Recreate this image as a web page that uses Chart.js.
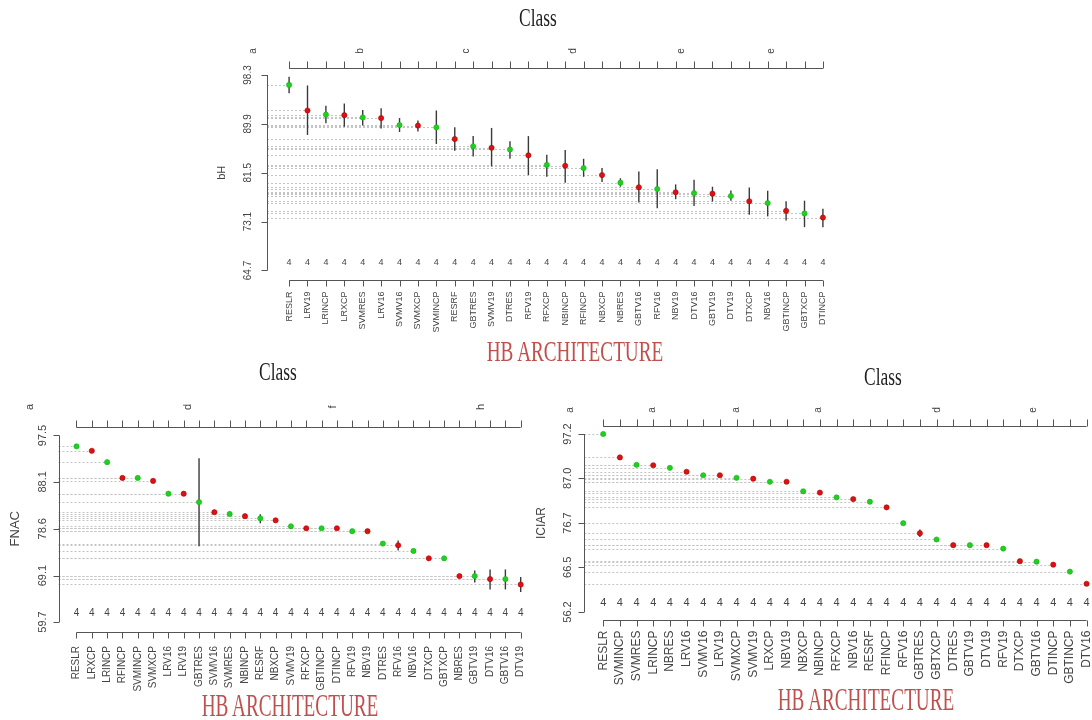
<!DOCTYPE html>
<html>
<head>
<meta charset="utf-8">
<script src="https://cdn.jsdelivr.net/npm/chart.js@4.4.1/dist/chart.umd.min.js"></script>
<style>
  body { margin: 0; background: #fff; width: 1092px; height: 720px; overflow: hidden; position: relative; }
  canvas { position: absolute; left: 0; top: 0; }
  .ttl { position: absolute; font-family: "Liberation Serif", "Times New Roman", serif; line-height: 1; white-space: nowrap; }
  .cls { color: #222; }
  .arch { color: #c0504d; }
</style>
</head>
<body>
<canvas id="bh" width="1092" height="720"></canvas>
<canvas id="fnac" width="1092" height="720"></canvas>
<canvas id="iciar" width="1092" height="720"></canvas>

<div class="ttl cls" style="left:538px;top:5px;font-size:26px;transform:translateX(-50%) scaleX(.67)">Class</div>
<div class="ttl arch" style="left:575px;top:336px;font-size:30px;transform:translateX(-50%) scaleX(.64)">HB ARCHITECTURE</div>
<div class="ttl cls" style="left:278px;top:359px;font-size:26px;transform:translateX(-50%) scaleX(.67)">Class</div>
<div class="ttl arch" style="left:290px;top:690px;font-size:31px;transform:translateX(-50%) scaleX(.62)">HB ARCHITECTURE</div>
<div class="ttl cls" style="left:883px;top:364px;font-size:26px;transform:translateX(-50%) scaleX(.67)">Class</div>
<div class="ttl arch" style="left:866px;top:683px;font-size:32px;transform:translateX(-50%) scaleX(.6)">HB ARCHITECTURE</div>

<script>
// ---- bH panel (top) ----
const labelsBH = ['RESLR', 'LRV19', 'LRINCP', 'LRXCP', 'SVMRES', 'LRV16', 'SVMV16', 'SVMXCP', 'SVMINCP', 'RESRF',
    'GBTRES', 'SVMV19', 'DTRES', 'RFV19', 'RFXCP', 'NBINCP', 'RFINCP', 'NBXCP', 'NBRES', 'GBTV16',
    'RFV16', 'NBV19', 'DTV16', 'GBTV19', 'DTV19', 'DTXCP', 'NBV16', 'GBTINCP', 'GBTXCP', 'DTINCP'];
const meansBH = [96.6, 92.2, 91.5, 91.4, 91.0, 90.9, 89.7, 89.6, 89.3, 87.3,
    86.05, 85.8, 85.5, 84.5, 82.85, 82.7, 82.3, 81.1, 79.8, 79.0,
    78.7, 78.15, 78.0, 77.9, 77.5, 76.6, 76.3, 74.95, 74.5, 73.8];
const lowBH = [95.15, 88.0, 90.0, 89.4, 89.6, 89.1, 88.5, 88.6, 86.45, 85.3,
    84.3, 82.6, 83.9, 81.1, 80.8, 79.8, 80.8, 79.9, 79.1, 76.4,
    75.4, 76.95, 75.8, 76.55, 76.7, 74.3, 74.0, 73.3, 72.15, 72.15];
const highBH = [98.0, 96.5, 93.0, 93.4, 92.3, 92.6, 90.9, 90.5, 92.2, 89.3,
    87.8, 89.2, 86.9, 87.8, 84.6, 85.4, 83.9, 82.3, 80.55, 81.7,
    82.1, 79.5, 80.3, 79.1, 78.45, 78.95, 78.4, 76.6, 76.7, 75.3];
const ticksBH = [64.7, 73.1, 81.5, 89.9, 98.3];
const lettersBH = ['a', 'b', 'c', 'd', 'e', 'e'];
const letterAtBH = [-0.92, 4.85, 10.65, 16.45, 22.3, 27.2];
const countsBH = [4, 4, 4, 4, 4, 4, 4, 4, 4, 4, 4, 4, 4, 4, 4, 4, 4, 4, 4, 4, 4, 4, 4, 4, 4, 4, 4, 4, 4, 4];

// ---- FNAC panel (bottom left) ----
const labelsFNAC = ['RESLR', 'LRXCP', 'LRINCP', 'RFINCP', 'SVMINCP', 'SVMXCP', 'LRV16', 'LRV19', 'GBTRES', 'SVMV16',
    'SVMRES', 'NBINCP', 'RESRF', 'NBXCP', 'SVMV19', 'RFXCP', 'GBTINCP', 'DTINCP', 'RFV19', 'NBV19',
    'DTRES', 'RFV16', 'NBV16', 'DTXCP', 'GBTXCP', 'NBRES', 'GBTV19', 'DTV16', 'GBTV16', 'DTV19'];
const meansFNAC = [95.3, 94.4, 92.1, 88.9, 88.9, 88.3, 85.7, 85.7, 84.0, 81.95,
    81.6, 81.15, 80.7, 80.3, 79.1, 78.7, 78.7, 78.7, 78.1, 78.1,
    75.6, 75.25, 74.1, 72.6, 72.6, 69.0, 69.0, 68.4, 68.4, 67.3];
const lowFNAC = [95.3, 94.4, 92.1, 88.9, 88.9, 88.3, 85.7, 85.7, 75.05, 81.95,
    81.6, 81.15, 79.7, 80.3, 78.6, 78.7, 78.7, 78.7, 78.1, 78.1,
    75.6, 74.2, 74.1, 72.6, 72.6, 69.0, 67.7, 66.3, 66.3, 65.8];
const highFNAC = [95.3, 94.4, 92.1, 88.9, 88.9, 88.3, 85.7, 85.7, 92.9, 81.95,
    81.6, 81.15, 81.55, 80.3, 79.55, 78.7, 78.7, 78.7, 78.1, 78.1,
    75.6, 76.2, 74.1, 72.6, 72.6, 69.0, 70.15, 70.35, 70.35, 68.8];
const ticksFNAC = [59.7, 69.1, 78.6, 88.1, 97.5];
const lettersFNAC = ['a', 'd', 'f', 'h'];
const letterAtFNAC = [-2.05, 8.27, 17.73, 27.4];
const countsFNAC = [4, 4, 4, 4, 4, 4, 4, 4, 4, 4, 4, 4, 4, 4, 4, 4, 4, 4, 4, 4, 4, 4, 4, 4, 4, 4, 4, 4, 4, 4];

// ---- ICIAR panel (bottom right) ----
const labelsICIAR = ['RESLR', 'SVMINCP', 'SVMRES', 'LRINCP', 'NBRES', 'LRV16', 'SVMV16', 'LRV19', 'SVMXCP', 'SVMV19',
    'LRXCP', 'NBV19', 'NBXCP', 'NBINCP', 'RFXCP', 'NBV16', 'RESRF', 'RFINCP', 'RFV16', 'GBTRES',
    'GBTXCP', 'DTRES', 'GBTV19', 'DTV19', 'RFV19', 'DTXCP', 'GBTV16', 'DTINCP', 'GBTINCP', 'DTV16'];
const meansICIAR = [97.2, 91.8, 90.1, 90.0, 89.4, 88.5, 87.7, 87.7, 87.1, 86.9,
    86.2, 86.2, 84.0, 83.7, 82.6, 82.2, 81.6, 80.3, 76.65, 74.35,
    72.9, 71.6, 71.6, 71.6, 70.8, 67.9, 67.8, 67.1, 65.5, 62.7];
const lowICIAR = [97.2, 91.8, 90.1, 90.0, 89.4, 88.5, 87.7, 87.7, 87.1, 86.9,
    86.2, 86.2, 84.0, 83.7, 82.6, 82.2, 81.6, 80.3, 76.65, 73.5,
    72.9, 71.6, 71.6, 71.6, 70.8, 67.9, 67.8, 67.1, 65.5, 62.7];
const highICIAR = [97.2, 91.8, 90.1, 90.0, 89.4, 88.5, 87.7, 87.7, 87.1, 86.9,
    86.2, 86.2, 84.0, 83.7, 82.6, 82.2, 81.6, 80.3, 76.65, 75.2,
    72.9, 71.6, 71.6, 71.6, 70.8, 67.9, 67.8, 67.1, 65.5, 62.7];
const ticksICIAR = [56.2, 66.5, 76.7, 87.0, 97.2];
const lettersICIAR = ['a', 'a', 'a', 'a', 'd', 'e'];
const letterAtICIAR = [-0.95, 3.97, 8.99, 13.9, 21.04, 26.8];
const countsICIAR = [4, 4, 4, 4, 4, 4, 4, 4, 4, 4, 4, 4, 4, 4, 4, 4, 4, 4, 4, 4, 4, 4, 4, 4, 4, 4, 4, 4, 4, 4];

const GREEN = '#1fd11f';
const RED = '#dd1111';
const AXIS = '#555555';
const INK = '#444444';
const FONT = '"Liberation Sans", Arial, sans-serif';
const W = 1092, H = 720;

function vtext(ctx, str, px, py, align, size) {
    ctx.save();
    ctx.translate(px, py);
    ctx.rotate(-Math.PI / 2);
    ctx.textAlign = align;
    ctx.textBaseline = 'middle';
    ctx.font = size + 'px ' + FONT;
    ctx.fillText(str, 0, 0);
    ctx.restore();
}

function drawPanel(id, p) {
    const n = p.labels.length;

    const rPlot = {
        id: 'rplot',
        beforeDatasetsDraw(chart) {
            const { ctx, chartArea: a, scales: { x, y } } = chart;
            ctx.save();
            // dotted guides from the axis to each mean
            ctx.strokeStyle = '#c4c4c4';
            ctx.lineWidth = 1;
            ctx.setLineDash([2, 2]);
            p.means.forEach((m, i) => {
                const py = Math.round(y.getPixelForValue(m)) + 0.5;
                ctx.beginPath();
                ctx.moveTo(a.left, py);
                ctx.lineTo(x.getPixelForValue(i + 1), py);
                ctx.stroke();
            });
            // error bars
            ctx.setLineDash([]);
            ctx.strokeStyle = '#3a3a3a';
            ctx.lineWidth = 1.4;
            p.low.forEach((lo, i) => {
                if (p.high[i] - lo < 0.01) return;
                const px = x.getPixelForValue(i + 1);
                ctx.beginPath();
                ctx.moveTo(px, y.getPixelForValue(lo));
                ctx.lineTo(px, y.getPixelForValue(p.high[i]));
                ctx.stroke();
            });
            ctx.restore();
        },
        afterDraw(chart) {
            const { ctx, chartArea: a, scales: { x, y } } = chart;
            const x1 = x.getPixelForValue(1), xn = x.getPixelForValue(n);
            const yLo = y.getPixelForValue(p.ticks[0]);
            const yHi = y.getPixelForValue(p.ticks[p.ticks.length - 1]);
            const L = Math.round(a.left) + 0.5, T = Math.round(a.top) + 0.5, B = Math.round(a.bottom) + 0.5;
            ctx.save();
            ctx.strokeStyle = AXIS;
            ctx.lineWidth = 1;
            ctx.beginPath();
            // y axis
            ctx.moveTo(L, yLo); ctx.lineTo(L, yHi);
            p.ticks.forEach(t => {
                const py = Math.round(y.getPixelForValue(t)) + 0.5;
                ctx.moveTo(L, py); ctx.lineTo(L - 6, py);
            });
            // bottom and top category axes
            ctx.moveTo(x1, B); ctx.lineTo(xn, B);
            ctx.moveTo(x1, T); ctx.lineTo(xn, T);
            for (let i = 1; i <= n; i++) {
                const px = Math.round(x.getPixelForValue(i)) + 0.5;
                ctx.moveTo(px, B); ctx.lineTo(px, B + 6);
                ctx.moveTo(px, T); ctx.lineTo(px, T - 7);
            }
            ctx.stroke();

            ctx.fillStyle = INK;
            p.ticks.forEach(t => vtext(ctx, t.toFixed(1), a.left - p.tickGap, y.getPixelForValue(t), 'center', p.fTick));
            p.labels.forEach((l, i) => vtext(ctx, l, x.getPixelForValue(i + 1), a.bottom + p.labGap, 'right', p.fLab));
            p.letters.forEach((l, i) => vtext(ctx, l, x.getPixelForValue(p.letterAt[i]), a.top - p.letGap, 'center', p.fLet));
            vtext(ctx, p.title, a.left - p.titleGap, (yLo + yHi) / 2, 'center', p.fTitle);

            ctx.textAlign = 'center';
            ctx.textBaseline = 'middle';
            ctx.font = p.fCount + 'px ' + FONT;
            p.counts.forEach((c, i) => ctx.fillText(String(c), x.getPixelForValue(i + 1), y.getPixelForValue(p.countLevel)));
            ctx.restore();
        }
    };

    new Chart(document.getElementById(id), {
        type: 'scatter',
        data: {
            datasets: [{
                data: p.means.map((m, i) => ({ x: i + 1, y: m })),
                pointRadius: 2.6,
                pointBackgroundColor: p.means.map((m, i) => i % 2 ? RED : GREEN),
                pointBorderColor: p.means.map((m, i) => i % 2 ? '#b00000' : '#10b010'),
                pointBorderWidth: 0.6,
                clip: false
            }]
        },
        options: {
            responsive: false,
            animation: false,
            events: [],
            layout: { padding: { left: p.box[0], right: W - p.box[1], top: p.box[2], bottom: H - p.box[3] } },
            scales: {
                x: { type: 'linear', display: false, min: p.xMin, max: p.xMax },
                y: { type: 'linear', display: false, min: p.yMin, max: p.yMax }
            },
            plugins: { legend: { display: false }, tooltip: { enabled: false } }
        },
        plugins: [rPlot]
    });
}

drawPanel('bh', {
    labels: labelsBH, means: meansBH, low: lowBH, high: highBH, ticks: ticksBH,
    letters: lettersBH, letterAt: letterAtBH, counts: countsBH, countLevel: 66.1, title: 'bH',
    box: [267, 845, 67.5, 279.5], xMin: -0.2, xMax: 31.2, yMin: 63.15, yMax: 99.59,
    tickGap: 19, titleGap: 45, letGap: 16.5, labGap: 12,
    fTick: 10, fLab: 9, fLet: 10, fTitle: 11, fCount: 9
});

drawPanel('fnac', {
    labels: labelsFNAC, means: meansFNAC, low: lowFNAC, high: highFNAC, ticks: ticksFNAC,
    letters: lettersFNAC, letterAt: letterAtFNAC, counts: countsFNAC, countLevel: 61.5, title: 'FNAC',
    box: [58.5, 538.7, 427, 632], xMin: -0.175, xMax: 31.175, yMin: 57.67, yMax: 99.22,
    tickGap: 15.5, titleGap: 43.5, letGap: 20, labGap: 14,
    fTick: 11, fLab: 10, fLet: 11, fTitle: 13, fCount: 10
});

drawPanel('iciar', {
    labels: labelsICIAR, means: meansICIAR, low: lowICIAR, high: highICIAR, ticks: ticksICIAR,
    letters: lettersICIAR, letterAt: letterAtICIAR, counts: countsICIAR, countLevel: 58.2, title: 'ICIAR',
    box: [584.3, 1092, 426, 619.5], xMin: -0.135, xMax: 30.05, yMin: 54.47, yMax: 99.04,
    tickGap: 16, titleGap: 42.6, letGap: 16, labGap: 11,
    fTick: 11, fLab: 12, fLet: 10, fTitle: 12, fCount: 11
});
</script>
</body>
</html>
